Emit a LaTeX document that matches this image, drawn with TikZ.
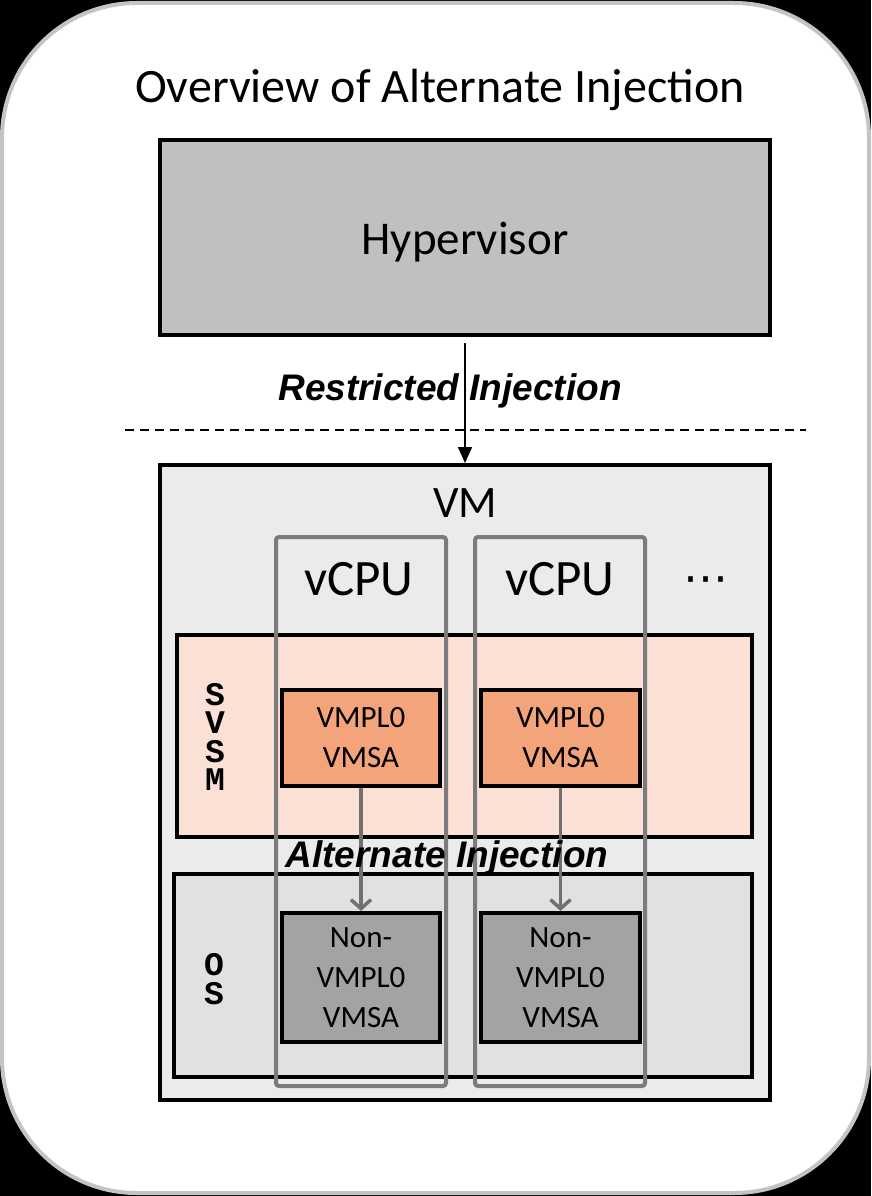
\documentclass[tikz,border=0pt]{standalone}
\usepackage{fontspec}
\setmainfont{Carlito}
\newfontfamily\arialfont{Liberation Sans}
\newfontfamily\courierfont{Liberation Mono}
\newfontfamily\symfont{DejaVu Sans}
\usetikzlibrary{arrows.meta}
\definecolor{framegray}{HTML}{C4C4C6}
\definecolor{hypfill}{HTML}{C0C0C2}
\definecolor{vmfill}{HTML}{EAEBEB}
\definecolor{svsmfill}{HTML}{FBE0D6}
\definecolor{vmplfill}{HTML}{F4A47A}
\definecolor{osfill}{HTML}{E1E1E1}
\definecolor{nonfill}{HTML}{A3A3A3}
\definecolor{cpuline}{HTML}{7A7B7D}
\definecolor{injgray}{HTML}{707070}
\begin{document}
\begin{tikzpicture}[x=1pt,y=-1pt,
  box/.style={draw=black, line width=4pt, rectangle, inner sep=0pt, align=center},
  cpuframe/.style={draw=cpuline, line width=4pt, rounded corners=3pt, rectangle, inner sep=0pt},
  titletext/.style={font=\fontsize{48}{56}\selectfont},
  bigtext/.style={font=\fontsize{47}{56}\selectfont},
  cputext/.style={font=\fontsize{51}{60}\selectfont},
  smalltext/.style={font=\fontsize{31}{40}\selectfont},
  injlabel/.style={font=\arialfont\bfseries\itshape\fontsize{37}{44}\selectfont},
  layerlabel/.style={font=\courierfont\bfseries\fontsize{33}{28.5}\selectfont, align=center},
  injarrow/.style={draw=injgray, line width=3.5pt, -{Straight Barb[length=9pt,width=20pt,line width=3.5pt]}}
]
\useasboundingbox (0,0) rectangle (871,1196);
\fill[black] (0,0) rectangle (871,1196);
\draw[framegray, line width=4pt, fill=white, rounded corners=135pt] (2,3) rectangle (869,1193);

\node[titletext, anchor=base] (title) at (440,103) {Overview of Alternate Injection};

% hypervisor and VM containers
\node[box, fill=hypfill, minimum width=610pt, minimum height=195pt] (hyp) at (465,237.5) {};
\node[bigtext, anchor=base] (hyplabel) at (hyp.center |- 0,254) {Hypervisor};
\node[box, fill=vmfill, minimum width=610pt, minimum height=635pt] (vm) at (465,782.5) {};
\node[font=\fontsize{45}{54}\selectfont, anchor=base] (vmlabel) at (465,517) {VM};

% trust boundary
\coordinate (dashL) at (125,430);
\coordinate (dashR) at (806,430);
\draw[black, line width=1.3pt, dash pattern=on 9pt off 6pt] (dashL) -- (dashR);

\node[injlabel, anchor=base] (restricted) at (450,400) {Restricted Injection};
\draw[black, line width=1.6pt, shorten <=6pt, -{Triangle[length=16pt,width=14pt]}] (hyp.south) -- (vm.north);

% privilege layers
\node[box, fill=svsmfill, minimum width=575pt, minimum height=202pt] (svsm) at (464.5,736) {};
\node[box, fill=osfill, minimum width=578pt, minimum height=203pt] (os) at (463,975.5) {};
\node[layerlabel] (svsmlabel) at (215,737) {S\\V\\S\\M};
\node[layerlabel] (oslabel) at (214,979) {O\\S};

% per-vCPU state
\node[box, fill=vmplfill, minimum width=158pt, minimum height=96pt, smalltext] (vmplA) at (361,738) {VMPL0\\VMSA};
\node[box, fill=vmplfill, minimum width=159pt, minimum height=96pt, smalltext] (vmplB) at (560.5,738) {VMPL0\\VMSA};
\node[box, fill=nonfill, minimum width=158pt, minimum height=129pt, smalltext] (nonA) at (361,977.5) {Non-\\VMPL0\\VMSA};
\node[box, fill=nonfill, minimum width=159pt, minimum height=129pt, smalltext] (nonB) at (560.5,977.5) {Non-\\VMPL0\\VMSA};

\node[cpuframe, minimum width=170pt, minimum height=549pt] (cpuA) at (361,811.5) {};
\node[cpuframe, minimum width=170pt, minimum height=549pt] (cpuB) at (560,811.5) {};
\node[cputext, anchor=base] (cpuAlabel) at (359,595) {vCPU};
\node[cputext, anchor=base] (cpuBlabel) at (560,595) {vCPU};
\node[font=\symfont\fontsize{45}{54}\selectfont] (more) at (706,585) {⋯};

\draw[injarrow] (vmplA.south) -- (nonA.north);
\draw[injarrow] (vmplB.south) -- (nonB.north);
\node[injlabel, anchor=base] (alternate) at (447,867) {Alternate Injection};
\end{tikzpicture}
\end{document}
